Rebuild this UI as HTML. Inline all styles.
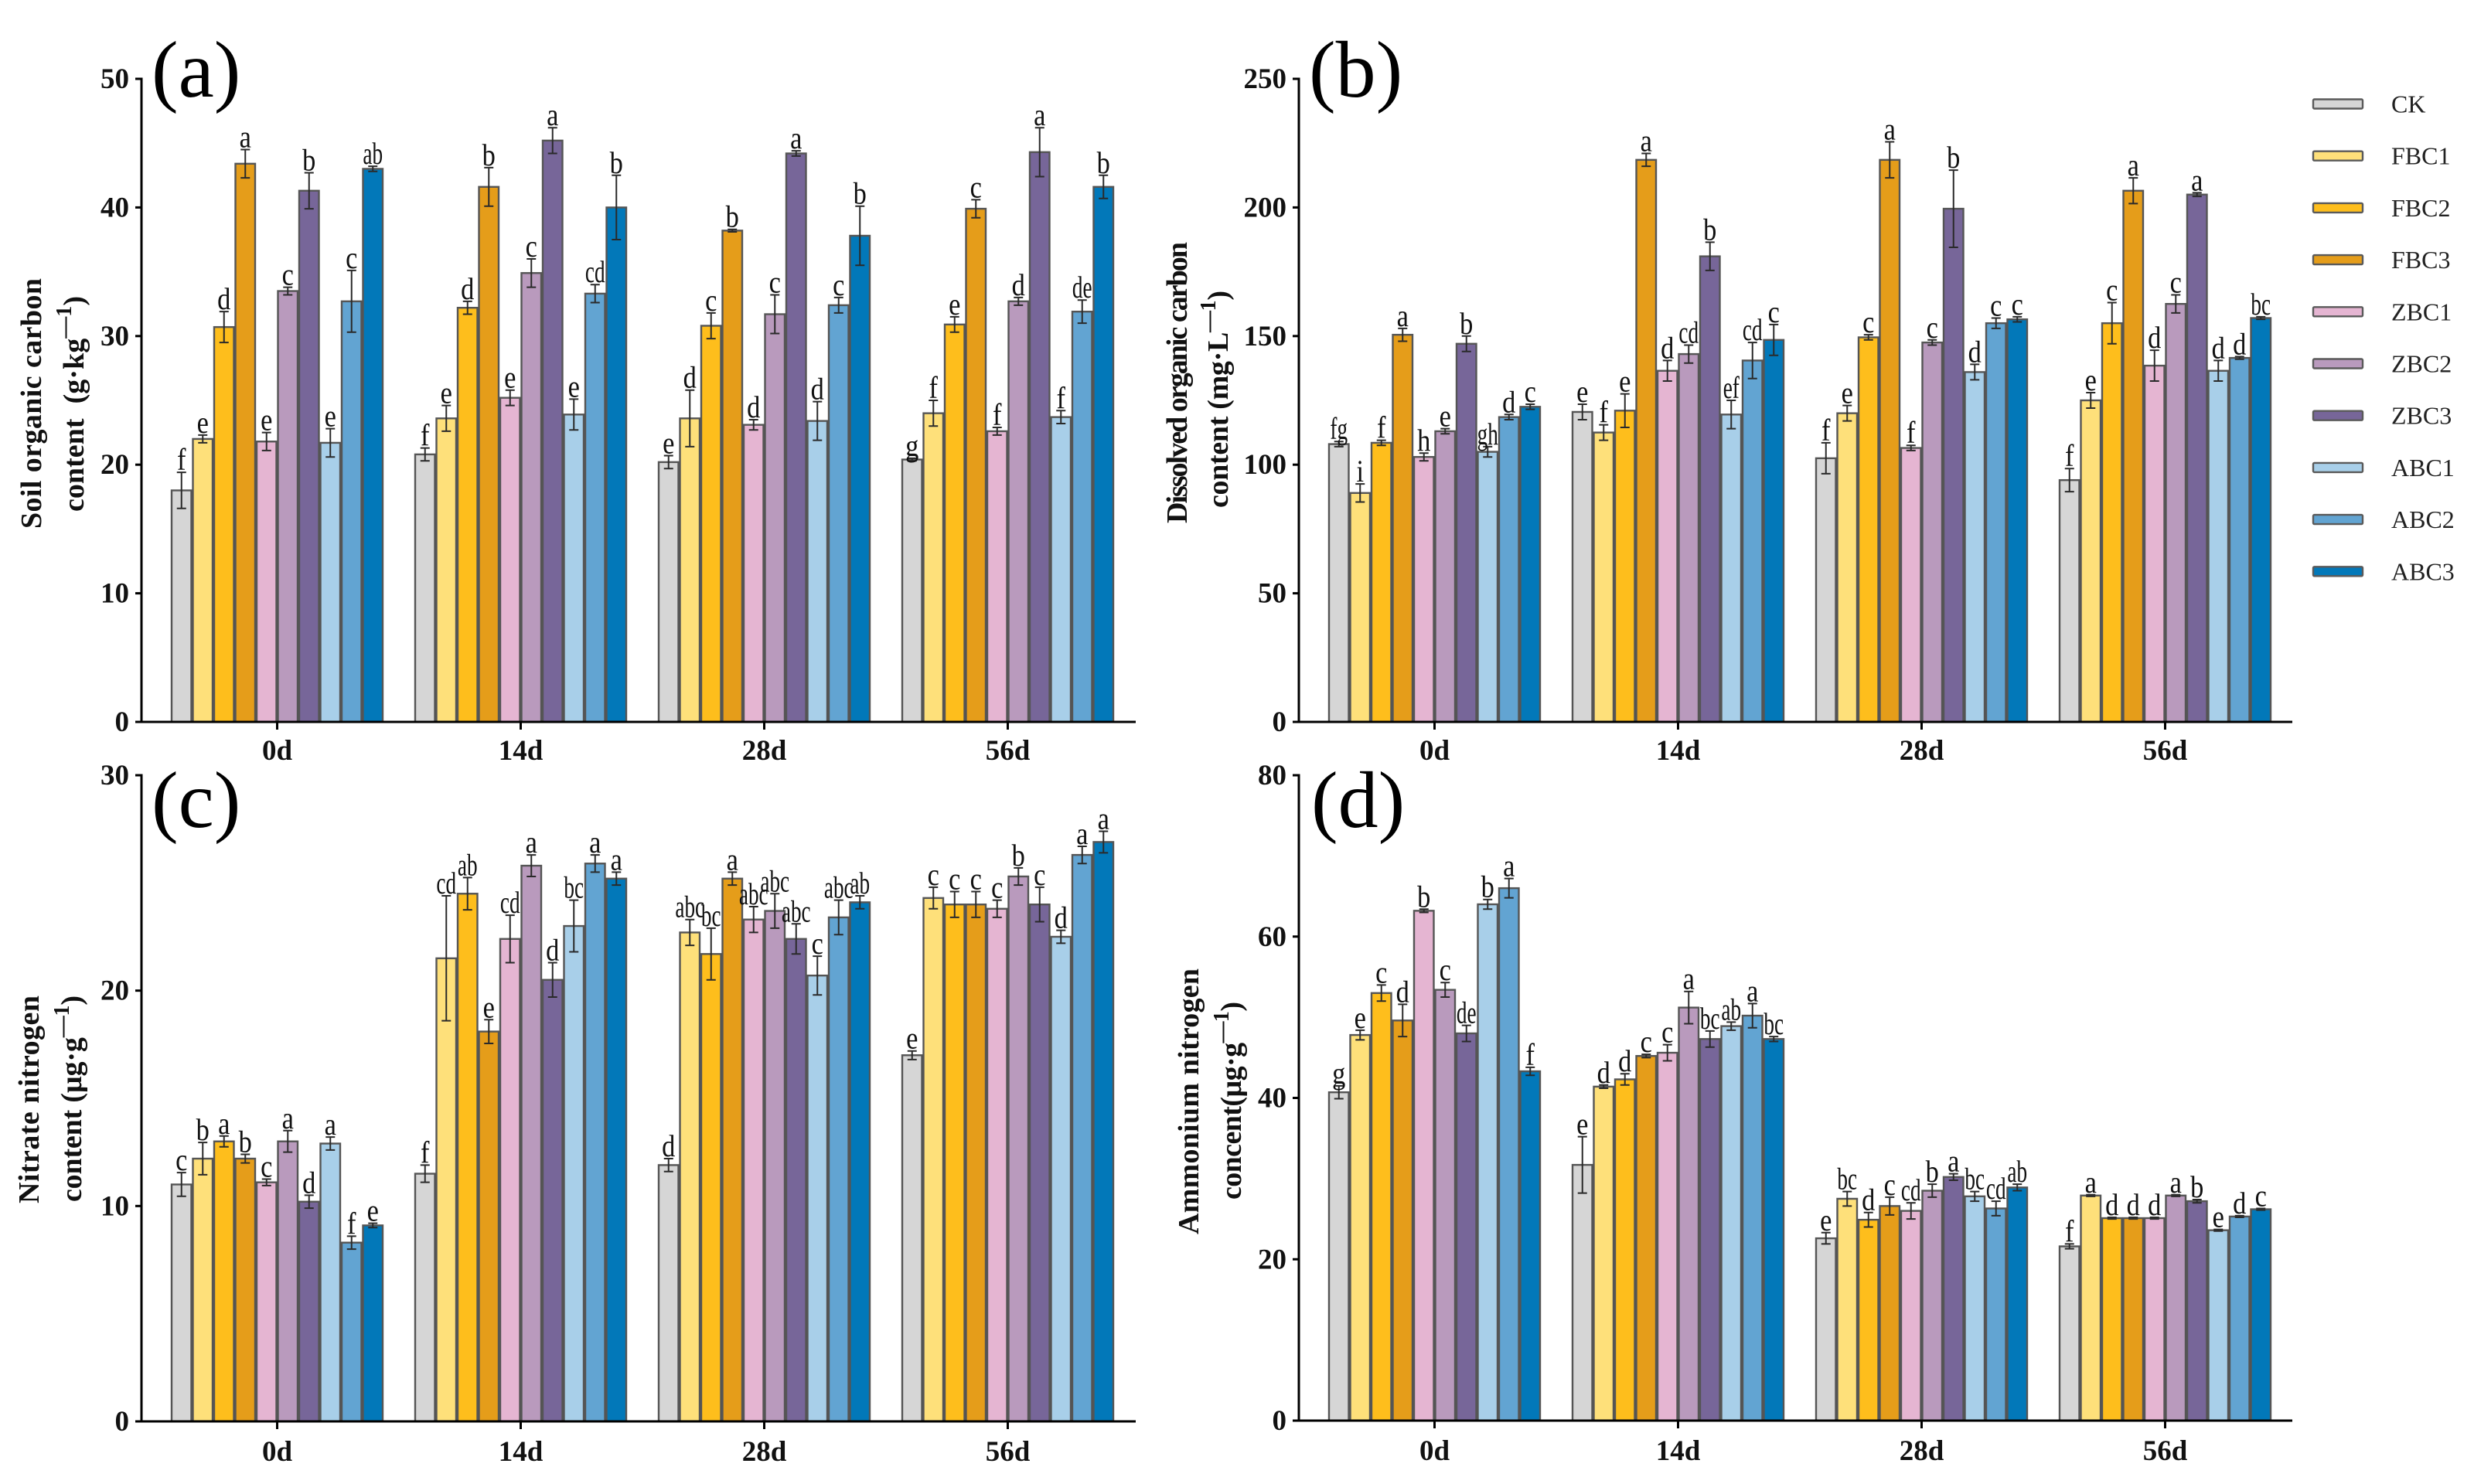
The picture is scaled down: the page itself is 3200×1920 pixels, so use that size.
<!DOCTYPE html>
<html><head><meta charset="utf-8">
<style>
html,body{margin:0;padding:0;background:#fff;width:3200px;height:1920px;overflow:hidden}
svg{display:block}
text{font-family:"Liberation Serif",serif;fill:#111}
.yt{font-weight:bold;font-size:38px}
.pl{font-size:104px;fill:#000}
.lg{font-size:32px;fill:#222}
</style></head>
<body>
<svg id="fig" width="3200" height="1920" viewBox="0 0 3200 1920" xmlns="http://www.w3.org/2000/svg">
<rect width="3200" height="1920" fill="#fff"/>
<g id="panels"></g>
<text class="pl" x="196" y="125">(a)</text>
<text class="pl" x="1693" y="125">(b)</text>
<text class="pl" x="196" y="1070">(c)</text>
<text class="pl" x="1696" y="1070">(d)</text>

<text class="yt" transform="translate(53,684) rotate(-90)" textLength="324">Soil organic carbon</text>
<text class="yt" transform="translate(108,662) rotate(-90)" textLength="279">content&#160;&#160;(g·kg<tspan dy="-16" font-size="28">—1</tspan><tspan dy="16">)</tspan></text>
<text class="yt" transform="translate(1535,677) rotate(-90)" textLength="364">Dissolved organic carbon</text>
<text class="yt" transform="translate(1588,657) rotate(-90)" textLength="281">content (mg·L<tspan dy="-16" font-size="28">—1</tspan><tspan dy="16">)</tspan></text>
<text class="yt" transform="translate(50,1557) rotate(-90)" textLength="269">Nitrate nitrogen</text>
<text class="yt" transform="translate(105,1555) rotate(-90)" textLength="267">content (µg·g<tspan dy="-16" font-size="28">—1</tspan><tspan dy="16">)</tspan></text>
<text class="yt" transform="translate(1550,1597) rotate(-90)" textLength="344">Ammonium nitrogen</text>
<text class="yt" transform="translate(1605,1552) rotate(-90)" textLength="256">concent(µg·g<tspan dy="-16" font-size="28">—1</tspan><tspan dy="16">)</tspan></text>
<g id="legend"></g>
</svg>
<script>
const categories = ["0d", "14d", "28d", "56d"];
const seriesNames = ["CK", "FBC1", "FBC2", "FBC3", "ZBC1", "ZBC2", "ZBC3", "ABC1", "ABC2", "ABC3"];
const seriesColors = ["#d6d6d6", "#fee07a", "#febe1c", "#e59d1a", "#e5b5d2", "#b99abd", "#776699", "#a8cfe9", "#62a4d2", "#0278b9"];

const socTicks = [0, 10, 20, 30, 40, 50];
const socValues = [
  [18, 22, 30.7, 43.4, 21.8, 33.5, 41.3, 21.7, 32.7, 43],
  [20.8, 23.6, 32.2, 41.6, 25.2, 34.9, 45.2, 23.9, 33.3, 40],
  [20.2, 23.6, 30.8, 38.2, 23.1, 31.7, 44.2, 23.4, 32.4, 37.8],
  [20.4, 24, 30.9, 39.9, 22.6, 32.7, 44.3, 23.7, 31.9, 41.6]
];
const socErrors = [
  [1.4, 0.3, 1.2, 1.1, 0.7, 0.3, 1.4, 1.1, 2.4, 0.2],
  [0.5, 1, 0.5, 1.5, 0.6, 1.1, 1, 1.2, 0.7, 2.5],
  [0.5, 2.2, 1, 0.1, 0.4, 1.5, 0.2, 1.5, 0.6, 2.3],
  [0.1, 1, 0.6, 0.7, 0.3, 0.3, 1.9, 0.5, 0.9, 0.9]
];
const socLetters = [
  ["f", "e", "d", "a", "e", "c", "b", "e", "c", "ab"],
  ["f", "e", "d", "b", "e", "c", "a", "e", "cd", "b"],
  ["e", "d", "c", "b", "d", "c", "a", "d", "c", "b"],
  ["g", "f", "e", "c", "f", "d", "a", "f", "de", "b"]
];

const docTicks = [0, 50, 100, 150, 200, 250];
const docValues = [
  [108, 89, 108.5, 150.5, 103, 113, 147, 105, 118.5, 122.5],
  [120.5, 112.5, 121, 218.5, 136.5, 143, 181, 119.5, 140.5, 148.5],
  [102.5, 120, 149.5, 218.5, 106.5, 147.5, 199.5, 136, 155, 156.5],
  [94, 125, 155, 206.5, 138.5, 162.5, 205, 136.5, 141.5, 157]
];
const docErrors = [
  [1, 3.5, 1, 2.5, 1.5, 1, 3, 2, 1, 1],
  [3, 3, 6.5, 2.5, 4, 3.5, 5.5, 5.5, 7, 6],
  [6, 3, 1, 7, 1, 1, 15, 3, 2, 1],
  [4.5, 3, 8, 5, 6, 3.5, 0.7, 4, 0.5, 0.5]
];
const docLetters = [
  ["fg", "i", "f", "a", "h", "e", "b", "gh", "d", "c"],
  ["e", "f", "e", "a", "d", "cd", "b", "ef", "cd", "c"],
  ["f", "e", "c", "a", "f", "c", "b", "d", "c", "c"],
  ["f", "e", "c", "a", "d", "c", "a", "d", "d", "bc"]
];

const nitrateTicks = [0, 10, 20, 30];
const nitrateValues = [
  [11, 12.2, 13, 12.2, 11.1, 13, 10.2, 12.9, 8.3, 9.1],
  [11.5, 21.5, 24.5, 18.1, 22.4, 25.8, 20.5, 23, 25.9, 25.2],
  [11.9, 22.7, 21.7, 25.2, 23.3, 23.7, 22.4, 20.7, 23.4, 24.1],
  [17, 24.3, 24, 24, 23.8, 25.3, 24, 22.5, 26.3, 26.9]
];
const nitrateErrors = [
  [0.55, 0.75, 0.25, 0.2, 0.15, 0.5, 0.3, 0.3, 0.3, 0.1],
  [0.4, 2.9, 0.75, 0.55, 1.1, 0.5, 0.8, 1.2, 0.4, 0.3],
  [0.3, 0.6, 1.2, 0.3, 0.6, 0.8, 0.7, 0.9, 0.8, 0.3],
  [0.2, 0.5, 0.6, 0.6, 0.4, 0.4, 0.8, 0.3, 0.4, 0.5]
];
const nitrateLetters = [
  ["c", "b", "a", "b", "c", "a", "d", "a", "f", "e"],
  ["f", "cd", "ab", "e", "cd", "a", "d", "bc", "a", "a"],
  ["d", "abc", "bc", "a", "abc", "abc", "abc", "c", "abc", "ab"],
  ["e", "c", "c", "c", "c", "b", "c", "d", "a", "a"]
];

const ammoniumTicks = [0, 20, 40, 60, 80];
const ammoniumValues = [
  [40.7, 47.8, 53, 49.6, 63.2, 53.4, 48, 64, 66, 43.3],
  [31.7, 41.4, 42.3, 45.2, 45.6, 51.2, 47.3, 48.9, 50.2, 47.3],
  [22.6, 27.5, 24.9, 26.6, 26, 28.5, 30.2, 27.8, 26.3, 28.9],
  [21.6, 27.9, 25.1, 25.1, 25.1, 27.9, 27.2, 23.6, 25.3, 26.2]
];
const ammoniumErrors = [
  [0.8, 0.6, 1, 2, 0.2, 0.9, 1, 0.6, 1.2, 0.5],
  [3.5, 0.2, 0.7, 0.2, 1, 2, 1, 0.5, 1.5, 0.3],
  [0.7, 0.9, 0.9, 1.1, 1, 0.8, 0.4, 0.6, 0.9, 0.4],
  [0.3, 0.1, 0.1, 0.1, 0.1, 0.1, 0.2, 0.1, 0.1, 0.1]
];
const ammoniumLetters = [
  ["g", "e", "c", "d", "b", "c", "de", "b", "a", "f"],
  ["e", "d", "d", "c", "c", "a", "bc", "ab", "a", "bc"],
  ["e", "bc", "d", "c", "cd", "b", "a", "bc", "cd", "ab"],
  ["f", "a", "d", "d", "d", "a", "b", "e", "d", "c"]
];

const NS = "http://www.w3.org/2000/svg";
const BAR_W = 27.5, GROUP_STEP = 315;

function node(parent, tag, attrs, text) {
  const el = document.createElementNS(NS, tag);
  for (const k in attrs) el.setAttribute(k, attrs[k]);
  if (text !== undefined) el.textContent = text;
  parent.appendChild(el);
  return el;
}

function drawPanel(cfg) {
  const root = document.getElementById("panels");
  const g = node(root, "g", {});
  
  
  const yMax = cfg.ticks[cfg.ticks.length - 1];
  const yOf = v => cfg.y0 - (v / yMax) * (cfg.y0 - cfg.yTop);
  const groupStart = i => cfg.firstBar + i * GROUP_STEP;

  categories.forEach((cat, gi) => {
    seriesNames.forEach((name, si) => {
      const v = cfg.values[gi][si];
      const x = groupStart(gi) + si * BAR_W;
      const top = yOf(v);
      const bar = node(g, "rect", {x: x + 1, y: top, width: BAR_W - 2, height: cfg.y0 - top, fill: seriesColors[si], stroke: "#555", "stroke-width": 2.4});
      
      
    });
  });
  categories.forEach((cat, gi) => {
    seriesNames.forEach((name, si) => {
      const v = cfg.values[gi][si], e = cfg.errors[gi][si];
      const cx = groupStart(gi) + si * BAR_W + BAR_W / 2;
      const yh = yOf(v + e), yl = yOf(v - e);
      const err = node(g, "path", {d: `M${cx - 6} ${yh}H${cx + 6}M${cx} ${yh}V${yl}M${cx - 6} ${yl}H${cx + 6}`, fill: "none", stroke: "#2a2a2a", "stroke-width": 2});
      
      
      const txt = cfg.letters[gi][si];
      const sx = txt.length > 1 ? 0.68 : 0.86;
      const lab = node(g, "text", {transform: `translate(${cx},${yh - 3}) scale(${sx},1)`, "text-anchor": "middle", "font-size": 40}, txt);
      
      
    });
  });

  const yAxis = node(g, "line", {x1: cfg.axisX, x2: cfg.axisX, y1: cfg.yTop - 1.5, y2: cfg.y0 + 1.5, stroke: "#000", "stroke-width": 3});
  
  
  const xAxis = node(g, "line", {x1: cfg.axisX - 8, x2: cfg.axisEnd, y1: cfg.y0, y2: cfg.y0, stroke: "#000", "stroke-width": 3});
  
  

  cfg.ticks.forEach(t => {
    const y = yOf(t);
    const tick = node(g, "line", {x1: cfg.axisX - 8, x2: cfg.axisX, y1: y, y2: y, stroke: "#000", "stroke-width": 3});
    
    
    const lab = node(g, "text", {x: cfg.axisX - 16, y: y + 12, "text-anchor": "end", "font-size": 37, "font-weight": "bold"}, String(t));
    
    
  });
  categories.forEach((cat, gi) => {
    const cx = groupStart(gi) + 5 * BAR_W;
    const tick = node(g, "line", {x1: cx, x2: cx, y1: cfg.y0, y2: cfg.y0 + 10, stroke: "#000", "stroke-width": 3});
    
    
    const lab = node(g, "text", {x: cx, y: cfg.y0 + cfg.labelDy, "text-anchor": "middle", "font-size": 37, "font-weight": "bold"}, cat);
    
    
  });
}

drawPanel({id: "a", axisX: 183, axisEnd: 1469, firstBar: 221, y0: 934, yTop: 102, labelDy: 49, ticks: socTicks, values: socValues, errors: socErrors, letters: socLetters});
drawPanel({id: "b", axisX: 1680, axisEnd: 2965, firstBar: 1718, y0: 934, yTop: 102, labelDy: 49, ticks: docTicks, values: docValues, errors: docErrors, letters: docLetters});
drawPanel({id: "c", axisX: 183, axisEnd: 1469, firstBar: 221, y0: 1839, yTop: 1003, labelDy: 51, ticks: nitrateTicks, values: nitrateValues, errors: nitrateErrors, letters: nitrateLetters});
drawPanel({id: "d", axisX: 1680, axisEnd: 2965, firstBar: 1718, y0: 1838, yTop: 1003, labelDy: 51, ticks: ammoniumTicks, values: ammoniumValues, errors: ammoniumErrors, letters: ammoniumLetters});

const legendRoot = document.getElementById("legend");
seriesNames.forEach((name, i) => {
  const cy = 134.5 + i * 67.2;
  const sw = node(legendRoot, "rect", {x: 2992, y: cy - 6, width: 64, height: 12, rx: 1.5, fill: seriesColors[i], stroke: "#5a5a5a", "stroke-width": 2.4});
  
  
  const lab = node(legendRoot, "text", {x: 3093, y: cy + 11, class: "lg"}, name);
  
  
});
</script>
</body></html>
